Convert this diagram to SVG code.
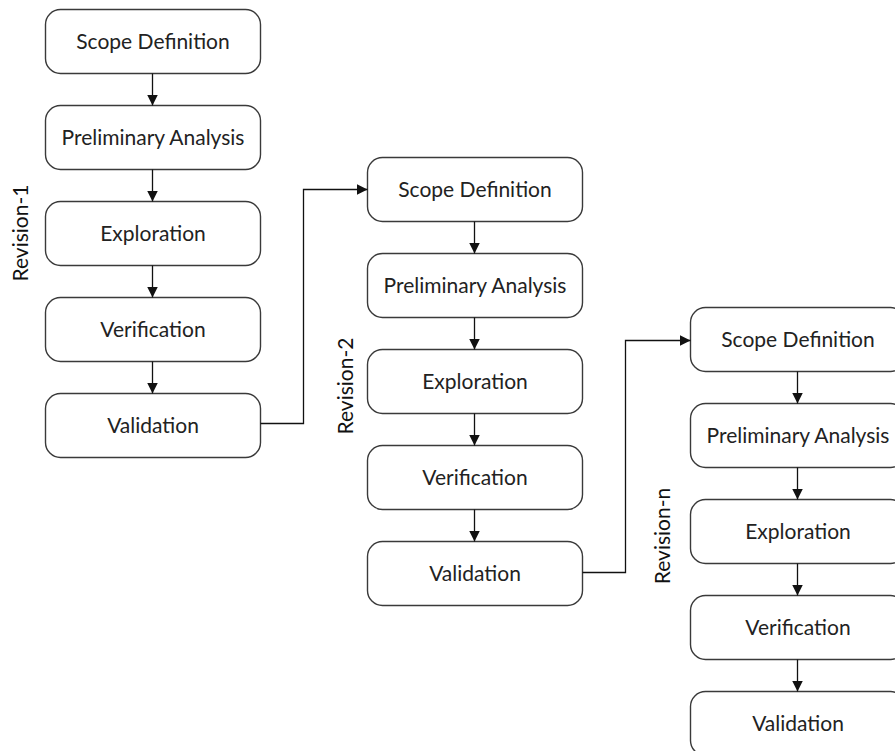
<svg xmlns="http://www.w3.org/2000/svg" width="895" height="751" viewBox="0 0 895 751">
  <style>
    .box { fill: #ffffff; stroke: #3a3a3a; stroke-width: 1.4; }
    .lbl { font-family: "Lato", "Liberation Sans", sans-serif; font-size: 21px; fill: #222222; text-anchor: middle; }
    .rev { font-family: "Lato", "Liberation Sans", sans-serif; font-size: 21px; fill: #111111; text-anchor: middle; }
    .link { fill: none; stroke: #111111; stroke-width: 1.3; }
  </style>
  <defs>
    <marker id="arrow" markerUnits="userSpaceOnUse" markerWidth="12" markerHeight="12" viewBox="0 0 12 12" refX="11" refY="6" orient="auto">
      <path d="M0,0.5 L11,6 L0,11.5 Z" fill="#111111"/>
    </marker>
  </defs>
  <rect width="895" height="751" fill="#ffffff"/>

  <!-- Revision-1 column -->
  <g id="r1-scope"><rect class="box" x="45.5" y="9.5" width="215" height="64" rx="15"/><text class="lbl" x="153" y="49">Scope Definition</text></g>
  <g id="r1-prelim"><rect class="box" x="45.5" y="105.5" width="215" height="64" rx="15"/><text class="lbl" x="153" y="145">Preliminary Analysis</text></g>
  <g id="r1-explore"><rect class="box" x="45.5" y="201.5" width="215" height="64" rx="15"/><text class="lbl" x="153" y="241">Exploration</text></g>
  <g id="r1-verify"><rect class="box" x="45.5" y="297.5" width="215" height="64" rx="15"/><text class="lbl" x="153" y="337">Verification</text></g>
  <g id="r1-validate"><rect class="box" x="45.5" y="393.5" width="215" height="64" rx="15"/><text class="lbl" x="153" y="433">Validation</text></g>
  <g id="r1-label"><text class="rev" transform="translate(28,233) rotate(-90)">Revision-1</text></g>

  <!-- Revision-2 column -->
  <g id="r2-scope"><rect class="box" x="367.5" y="157.5" width="215" height="64" rx="15"/><text class="lbl" x="475" y="197">Scope Definition</text></g>
  <g id="r2-prelim"><rect class="box" x="367.5" y="253.5" width="215" height="64" rx="15"/><text class="lbl" x="475" y="293">Preliminary Analysis</text></g>
  <g id="r2-explore"><rect class="box" x="367.5" y="349.5" width="215" height="64" rx="15"/><text class="lbl" x="475" y="389">Exploration</text></g>
  <g id="r2-verify"><rect class="box" x="367.5" y="445.5" width="215" height="64" rx="15"/><text class="lbl" x="475" y="485">Verification</text></g>
  <g id="r2-validate"><rect class="box" x="367.5" y="541.5" width="215" height="64" rx="15"/><text class="lbl" x="475" y="581">Validation</text></g>
  <g id="r2-label"><text class="rev" transform="translate(353,386) rotate(-90)">Revision-2</text></g>

  <!-- Revision-n column -->
  <g id="rn-scope"><rect class="box" x="690.5" y="307.5" width="215" height="64" rx="15"/><text class="lbl" x="798" y="347">Scope Definition</text></g>
  <g id="rn-prelim"><rect class="box" x="690.5" y="403.5" width="215" height="64" rx="15"/><text class="lbl" x="798" y="443">Preliminary Analysis</text></g>
  <g id="rn-explore"><rect class="box" x="690.5" y="499.5" width="215" height="64" rx="15"/><text class="lbl" x="798" y="539">Exploration</text></g>
  <g id="rn-verify"><rect class="box" x="690.5" y="595.5" width="215" height="64" rx="15"/><text class="lbl" x="798" y="635">Verification</text></g>
  <g id="rn-validate"><rect class="box" x="690.5" y="691.5" width="215" height="64" rx="15"/><text class="lbl" x="798" y="731">Validation</text></g>
  <g id="rn-label"><text class="rev" transform="translate(670,536) rotate(-90)">Revision-n</text></g>

  <!-- Connectors -->
  <g id="connectors">
    <path class="link" marker-end="url(#arrow)" d="M152.5,73.5 V105.5"/>
    <path class="link" marker-end="url(#arrow)" d="M152.5,169.5 V201.5"/>
    <path class="link" marker-end="url(#arrow)" d="M152.5,265.5 V297.5"/>
    <path class="link" marker-end="url(#arrow)" d="M152.5,361.5 V393.5"/>

    <path class="link" marker-end="url(#arrow)" d="M474.5,221.5 V253.5"/>
    <path class="link" marker-end="url(#arrow)" d="M474.5,317.5 V349.5"/>
    <path class="link" marker-end="url(#arrow)" d="M474.5,413.5 V445.5"/>
    <path class="link" marker-end="url(#arrow)" d="M474.5,509.5 V541.5"/>

    <path class="link" marker-end="url(#arrow)" d="M797.5,371.5 V403.5"/>
    <path class="link" marker-end="url(#arrow)" d="M797.5,467.5 V499.5"/>
    <path class="link" marker-end="url(#arrow)" d="M797.5,563.5 V595.5"/>
    <path class="link" marker-end="url(#arrow)" d="M797.5,659.5 V691.5"/>

    <path class="link" marker-end="url(#arrow)" d="M260.5,423.5 H303.5 V189.5 H367.5"/>
    <path class="link" marker-end="url(#arrow)" d="M582.5,572.5 H625.5 V340.5 H690.5"/>
  </g>
</svg>
